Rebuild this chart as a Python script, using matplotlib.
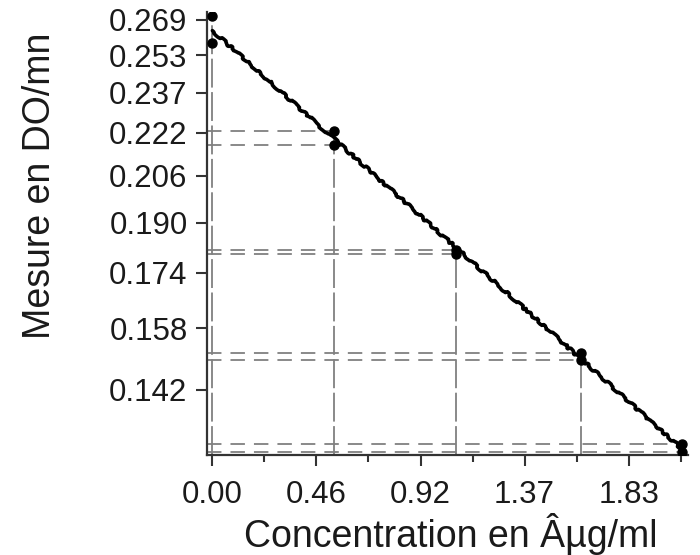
import numpy as np
import matplotlib
matplotlib.use("Agg")
import matplotlib.pyplot as plt

# ---- data ----
conc = [0.0, 0.535, 1.071, 1.623, 2.067]
rep1 = [0.2711, 0.2223, 0.1811, 0.1515, 0.1295]
rep2 = [0.2586, 0.2170, 0.1797, 0.1498, 0.1277]

y_ticks = [0.1422, 0.1581, 0.1740, 0.1898, 0.2057, 0.2216, 0.2374, 0.2533, 0.2692]
y_labels = ["0.142", "0.158", "0.174", "0.190", "0.206", "0.222", "0.237", "0.253", "0.269"]
x_ticks = [0.0, 0.4583, 0.9167, 1.3749, 1.8333]
x_labels = ["0.00", "0.46", "0.92", "1.37", "1.83"]
x_minor = [0.2292, 0.6875, 1.1458, 1.6042, 2.0625]

xlim = (-0.0238, 2.095)
ylim = (0.1271, 0.2729)

plt.rcParams['font.family'] = ['Liberation Sans', 'DejaVu Sans']

fig = plt.figure(figsize=(7.0, 5.55), dpi=100)
ax = fig.add_axes([207/700, 1-455/555, (688-207)/700, (455-12)/555])
ax.set_yscale('log')
ax.set_xlim(*xlim)
ax.set_ylim(*ylim)

grey = '#808080'
# guide lines
for xi, a, b in zip(conc, rep1, rep2):
    top = max(a, b)
    ax.plot([xi, xi], [ylim[0], top], color=grey, lw=1.3, dashes=(16, 2.5), zorder=1)
    for v in (a, b):
        ax.plot([xlim[0], xi], [v, v], color=grey, lw=1.3, dashes=(8, 5), zorder=1)

# exponential fit (straight on log axis)
xs = np.array(conc * 2)
ys = np.array(rep1 + rep2)
b1, b0 = np.polyfit(xs, np.log(ys), 1)
xf = np.linspace(min(conc), max(conc), 200)
ln, = ax.plot(xf, np.exp(b0 + b1 * xf), color='black', lw=2.6, zorder=3,
              solid_capstyle='round')
ln.set_sketch_params(scale=1.3, length=30, randomness=10)

ax.plot(conc, rep1, 'o', color='black', ms=6.5, zorder=4)
ax.plot(conc, rep2, 'o', color='black', ms=6.5, zorder=4)

for s in ('top', 'right'):
    ax.spines[s].set_visible(False)
for s in ('left', 'bottom'):
    ax.spines[s].set_color('#333333')
    ax.spines[s].set_linewidth(1.6)

ax.yaxis.set_minor_locator(matplotlib.ticker.NullLocator())
ax.set_yticks(y_ticks)
ax.set_yticklabels(y_labels)
ax.set_xticks(x_ticks)
ax.set_xticklabels(x_labels)
ax.set_xticks(x_minor, minor=True)
ax.tick_params(axis='both', which='major', length=8, width=1.5, color='#333333',
               labelsize=22.5, labelcolor='#1a1a1a', direction='out')
ax.tick_params(axis='y', which='major', pad=6)
ax.tick_params(axis='x', which='major', pad=10)
ax.tick_params(axis='x', which='minor', length=5, width=1.5, color='#333333', direction='out')

fig.text(40/700, 1-186/555, 'Mesure en DO/mn', rotation=90, ha='center', va='center',
         fontsize=27, color='#1a1a1a')
fig.text(451/700, 1-547/555, 'Concentration en Âµg/ml', ha='center', va='baseline',
         fontsize=27, color='#1a1a1a')

fig.savefig('out.png', dpi=100)
